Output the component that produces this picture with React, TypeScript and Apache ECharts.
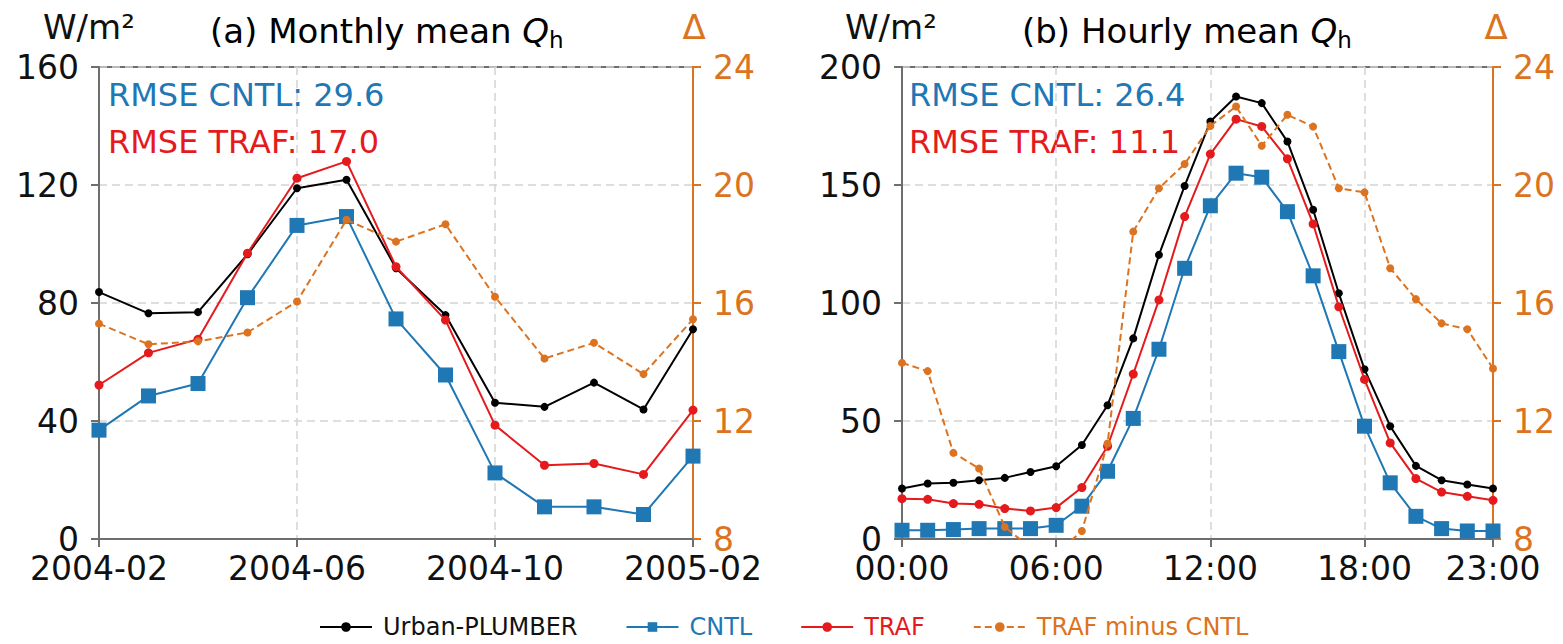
import React, { useEffect, useRef } from "react";
import * as echarts from "echarts";

const months = ["2004-02","2004-03","2004-04","2004-05","2004-06","2004-07","2004-08","2004-09","2004-10","2004-11","2004-12","2005-01","2005-02"];
const monthlyObs = [83.7, 76.5, 76.9, 96.5, 118.9, 121.8, 91.8, 75.9, 46.2, 44.8, 53.0, 43.9, 71.1];
const monthlyTraf = [52.2, 63.1, 67.7, 96.9, 122.3, 128.0, 92.3, 74.2, 38.6, 25.0, 25.6, 21.9, 43.7];
const monthlyCntl = [36.9, 48.5, 52.7, 81.8, 106.3, 109.3, 74.6, 55.6, 22.4, 10.9, 10.9, 8.3, 28.1];
const monthlyDiff = [15.3, 14.6, 14.7, 15.0, 16.05, 18.82, 18.08, 18.67, 16.21, 14.12, 14.65, 13.59, 15.45];

const hours = ["00:00","01:00","02:00","03:00","04:00","05:00","06:00","07:00","08:00","09:00","10:00","11:00","12:00","13:00","14:00","15:00","16:00","17:00","18:00","19:00","20:00","21:00","22:00","23:00"];
const hourlyObs = [21.4, 23.5, 23.8, 24.9, 25.9, 28.4, 30.8, 39.8, 56.7, 85.0, 120.4, 149.6, 176.9, 187.5, 184.7, 168.4, 139.5, 104.1, 71.9, 47.8, 31.0, 24.9, 23.1, 21.4];
const hourlyTraf = [17.1, 16.8, 15.0, 14.7, 12.9, 11.9, 13.3, 21.8, 39.3, 69.9, 101.3, 136.6, 163.1, 177.9, 174.8, 161.1, 133.5, 98.4, 67.6, 40.7, 25.6, 19.9, 18.1, 16.4];
const hourlyCntl = [3.7, 3.7, 4.0, 4.4, 4.4, 4.4, 5.8, 13.9, 28.7, 51.1, 80.4, 114.7, 141.2, 155.0, 153.3, 138.7, 111.5, 79.4, 47.8, 23.8, 9.6, 4.4, 3.4, 3.4];
const hourlyDiff = [13.97, 13.69, 10.92, 10.39, 8.41, 7.7, 7.5, 8.27, 11.24, 18.42, 19.89, 20.71, 22.0, 22.66, 21.33, 22.38, 21.98, 19.89, 19.75, 17.18, 16.13, 15.31, 15.11, 13.78];

const seriesNames = ["Urban-PLUMBER", "CNTL", "TRAF", "TRAF minus CNTL"];
const rmseLabels = [
  ["RMSE CNTL: 29.6", "RMSE TRAF: 17.0"],
  ["RMSE CNTL: 26.4", "RMSE TRAF: 11.1"],
];
const panelTitles = ["(a) Monthly mean ", "(b) Hourly mean "];

const BLACK = "#000000";
const BLUE = "#1f77b4";
const RED = "#e41a1c";
const ORANGE = "#dc7320";
const SPINE = "#6e6e6e";
const GRIDC = "#d4d4d4";
const FONT = "DejaVu Sans";

export default function App() {
  const ref = useRef<HTMLDivElement>(null);
  useEffect(() => {
    document.body.style.margin = "0";
    const chart = echarts.init(ref.current!, null, { renderer: "svg" });

    const grids = [
      { left: 99, top: 67, width: 594, height: 472 },
      { left: 902, top: 67, width: 591, height: 472 },
    ];

    const hourShow = (i: number) => i % 6 === 0 || i === 23;

    const xAxisBase = (gridIndex: number, data: string[], interval: any) => ({
      type: "category",
      gridIndex,
      data,
      boundaryGap: false,
      axisLine: { show: true, lineStyle: { color: SPINE, width: 2 } },
      axisTick: { show: true, interval, length: 8, lineStyle: { color: SPINE, width: 2 } },
      axisLabel: { interval, fontSize: 33, color: "#111", fontFamily: FONT, margin: 13 },
      splitLine: { show: true, interval, lineStyle: { color: GRIDC, width: 1.5, type: [8, 5] } },
    });

    const yLeft = (gridIndex: number, max: number, interval: number) => ({
      type: "value",
      gridIndex,
      min: 0,
      max,
      interval,
      position: "left",
      axisLine: { show: true, lineStyle: { color: SPINE, width: 2 } },
      axisTick: { show: true, length: 8, lineStyle: { color: SPINE, width: 2 } },
      axisLabel: { fontSize: 33, color: "#111", fontFamily: FONT, margin: 20 },
      splitLine: { show: true, lineStyle: { color: GRIDC, width: 1.5, type: [8, 5] } },
    });

    const yRight = (gridIndex: number) => ({
      type: "value",
      gridIndex,
      min: 8,
      max: 24,
      interval: 4,
      position: "right",
      axisLine: { show: true, lineStyle: { color: ORANGE, width: 2 } },
      axisTick: { show: true, length: 8, lineStyle: { color: ORANGE, width: 2 } },
      axisLabel: { fontSize: 33, color: ORANGE, fontFamily: FONT, margin: 20 },
      splitLine: { show: false },
    });

    const mk = (name: string, xi: number, yi: number, data: number[]) => {
      if (name === "Urban-PLUMBER")
        return { name, type: "line", xAxisIndex: xi, yAxisIndex: yi, data, symbol: "circle", symbolSize: 8,
          lineStyle: { color: BLACK, width: 2 }, itemStyle: { color: BLACK }, z: 4 };
      if (name === "CNTL")
        return { name, type: "line", xAxisIndex: xi, yAxisIndex: yi, data, symbol: "rect", symbolSize: 15,
          lineStyle: { color: BLUE, width: 2 }, itemStyle: { color: BLUE }, z: 3 };
      if (name === "TRAF")
        return { name, type: "line", xAxisIndex: xi, yAxisIndex: yi, data, symbol: "circle", symbolSize: 9,
          lineStyle: { color: RED, width: 2 }, itemStyle: { color: RED }, z: 5 };
      return { name, type: "line", xAxisIndex: xi, yAxisIndex: yi, data, symbol: "circle", symbolSize: 8,
        lineStyle: { color: ORANGE, width: 2, type: [7, 4] }, itemStyle: { color: ORANGE }, z: 6, clip: true };
    };

    const rich = {
      a: { fontSize: 34, fontFamily: FONT, color: "#111", lineHeight: 40, verticalAlign: "middle" },
      q: { fontSize: 34, fontFamily: FONT, fontStyle: "italic", color: "#111", lineHeight: 40, verticalAlign: "middle" },
      s: { fontSize: 23, fontFamily: FONT, color: "#111", lineHeight: 23, verticalAlign: "bottom" },
    };

    const textEl = (text: string, x: number, y: number, color: string, fontSize: number, align = "left") => ({
      type: "text", x, y,
      style: { text, fill: color, fontSize, fontFamily: FONT, align, verticalAlign: "middle" },
    });

    const graphics: any[] = [];
    const panelX = [
      { unit: 43, title: 210, delta: 694, rmse: 108 },
      { unit: 845, title: 1022, delta: 1496, rmse: 909 },
    ];
    panelX.forEach((p, i) => {
      graphics.push(textEl("W/m²", p.unit, 27, "#111", 34));
      graphics.push({
        type: "text", x: p.title, y: 31,
        style: { text: `{a|${panelTitles[i]}}{q|Q}{s|h}`, rich, verticalAlign: "middle", align: "left" },
      });
      graphics.push(textEl("Δ", p.delta, 27, ORANGE, 34, "center"));
      graphics.push(textEl(rmseLabels[i][0], p.rmse, 95, BLUE, 32));
      graphics.push(textEl(rmseLabels[i][1], p.rmse, 142, RED, 32));
    });

    const option: any = {
      animation: false,
      backgroundColor: "#ffffff",
      grid: grids.map((g) => ({ ...g, show: true, borderColor: SPINE, borderWidth: 2, backgroundColor: "transparent" })),
      xAxis: [
        xAxisBase(0, months, 3),
        xAxisBase(1, hours, (i: number) => hourShow(i)),
      ],
      yAxis: [yLeft(0, 160, 40), yRight(0), yLeft(1, 200, 50), yRight(1)],
      legend: {
        left: 319,
        top: 615,
        padding: 0,
        itemWidth: 52,
        itemHeight: 12,
        itemGap: 48,
        data: [
          { name: seriesNames[0], textStyle: { color: "#111" } },
          { name: seriesNames[1], textStyle: { color: BLUE } },
          { name: seriesNames[2], textStyle: { color: RED } },
          { name: seriesNames[3], textStyle: { color: ORANGE } },
        ],
        textStyle: { fontSize: 24, fontFamily: FONT, padding: [0, 0, 0, 6] },
      },
      graphic: graphics,
      series: [
        mk(seriesNames[0], 0, 0, monthlyObs),
        mk(seriesNames[1], 0, 0, monthlyCntl),
        mk(seriesNames[2], 0, 0, monthlyTraf),
        mk(seriesNames[3], 0, 1, monthlyDiff),
        mk(seriesNames[0], 1, 2, hourlyObs),
        mk(seriesNames[1], 1, 2, hourlyCntl),
        mk(seriesNames[2], 1, 2, hourlyTraf),
        mk(seriesNames[3], 1, 3, hourlyDiff),
      ],
    };
    chart.setOption(option);
    return () => chart.dispose();
  }, []);
  return <div ref={ref} style={{ width: 1563, height: 644 }} />;
}
